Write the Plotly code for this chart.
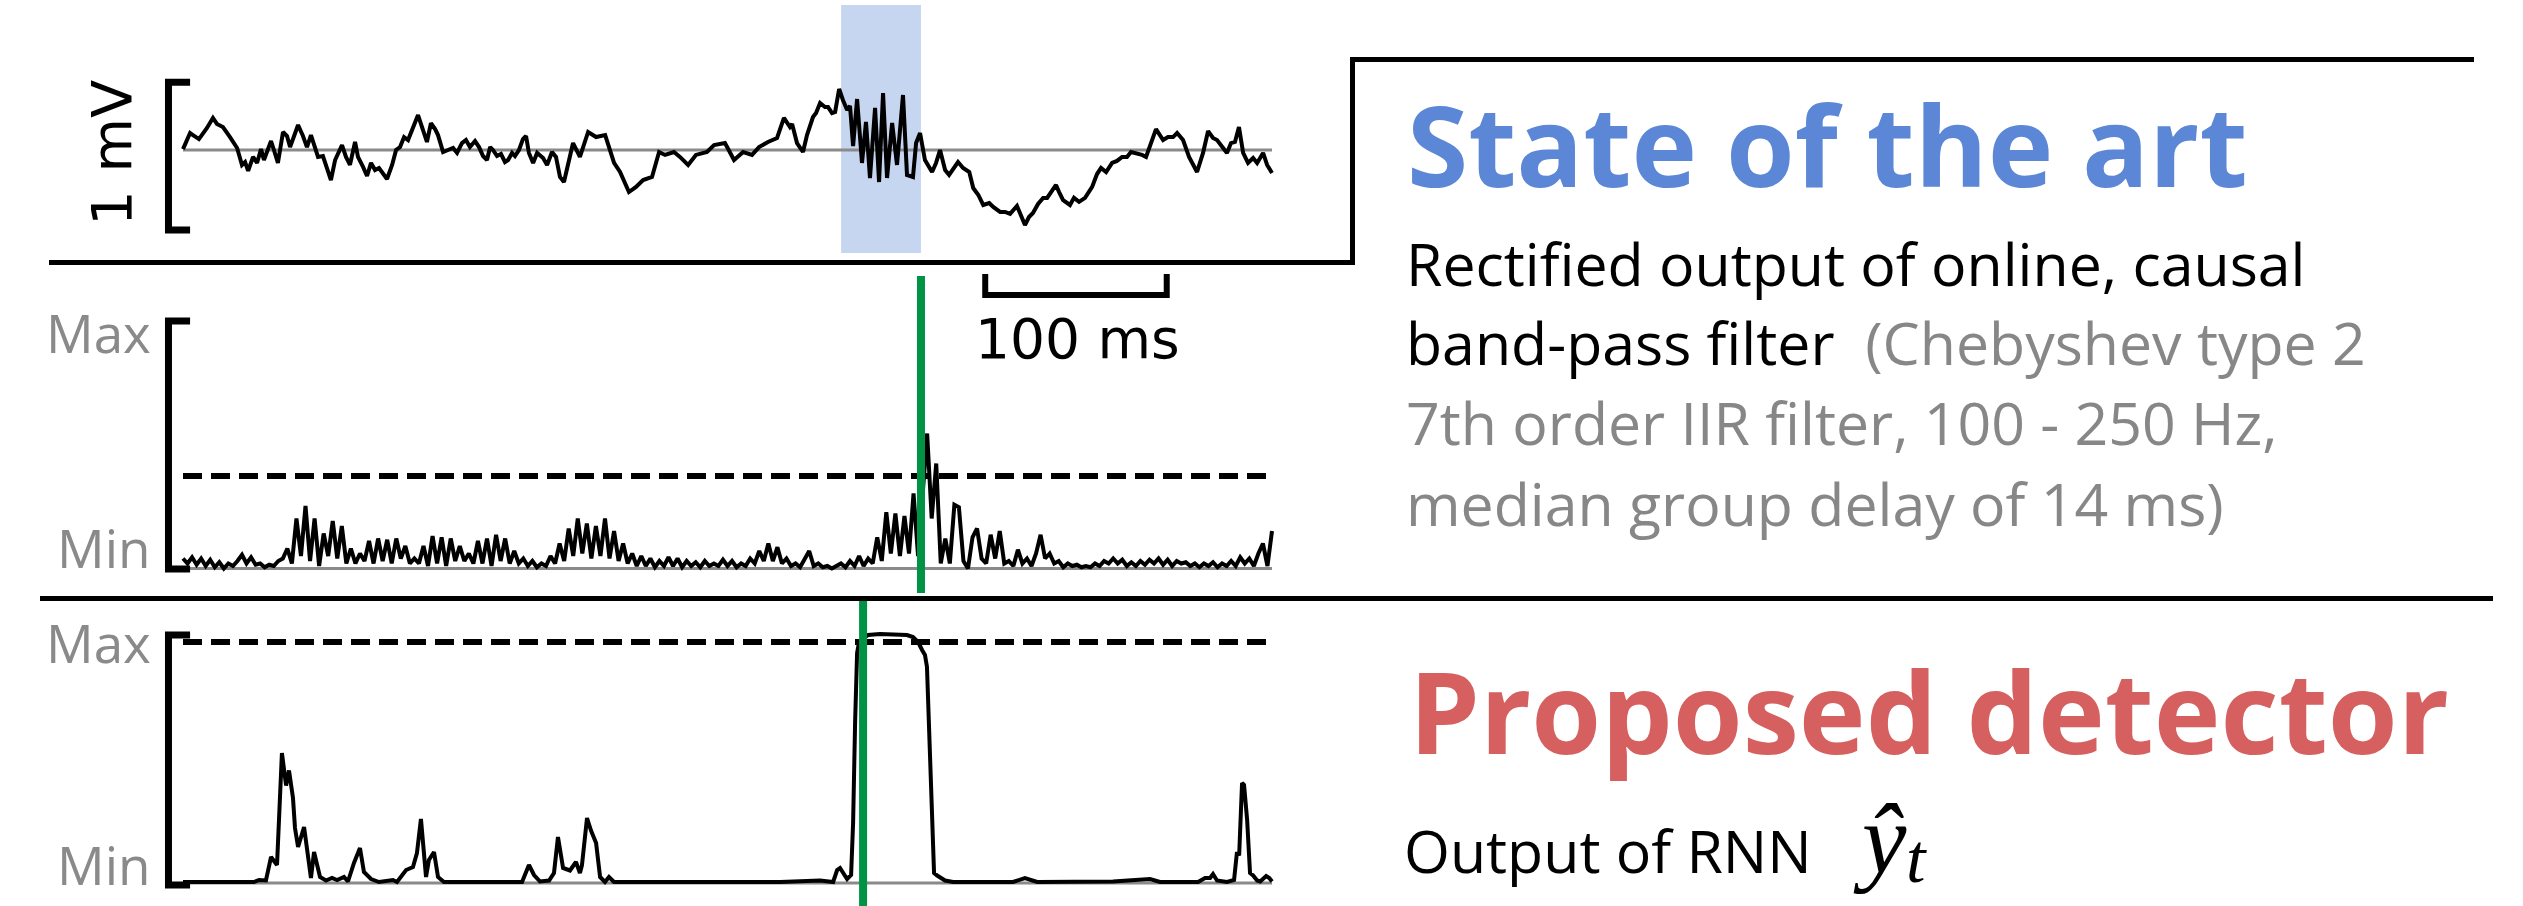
import numpy as np
import plotly.graph_objects as go

W, H = 2523, 906

# ---------------- data ----------------
# Top: raw LFP trace (time in ms, voltage in microvolts)
TOP_T = [0, 3.9, 5.5, 8.8, 13.2, 16.5, 18.7, 22.0, 25.9, 29.8, 32.5, 34.2, 35.9, 38.6, 40.8, 43.0, 44.6, 46.3,
         48.5, 50.1, 52.3, 55.1, 57.3, 59.0, 61.2, 63.4, 66.1, 68.3, 70.5, 72.2, 74.4, 77.1, 79.3, 81.5, 83.8,
         87.6, 89.8, 92.0, 94.8, 96.4, 99.2, 101.4, 103.6, 105.8, 108.0, 110.2, 112.4, 115.2, 117.4, 119.6,
         121.8, 124.0, 126.7, 129.5, 132.2, 134.4, 136.6, 138.9, 140.5, 143.3, 146.0, 148.8, 151.0, 153.7,
         155.9, 158.1, 160.9, 163.1, 165.3, 167.5, 169.2, 170.8, 173.0, 175.2, 177.4, 179.1, 181.3, 182.9,
         185.1, 187.3, 189.0, 190.6, 192.9, 195.1, 198.4, 200.6, 203.3, 205.5, 207.7, 209.9, 214.9, 218.7,
         223.2, 227.6, 232.6, 237.5, 240.8, 245.7, 249.6, 253.5, 258.4, 262.3, 265.6, 270.5, 273.8, 278.3,
         282.6, 288.7, 292.6, 298.6, 303.6, 308.6, 313.5, 317.4, 322.3, 327.3, 331.1, 334.4, 335.6, 338.3,
         341.6, 343.8, 347.1, 348.8, 351.0, 353.7, 355.4, 357.6, 359.3, 361.5, 363.6, 365.9, 367.5, 369.2,
         371.4, 374.1, 376.3, 378.5, 381.3, 383.5, 385.7, 387.9, 390.7, 393.4, 396.7, 398.9, 402.2, 403.9,
         406.1, 408.8, 412.7, 414.9, 417.1, 419.9, 422.1, 425.4, 427.0, 429.8, 433.2, 435.4, 438.2, 440.9,
         444.2, 446.4, 450.2, 452.9, 455.7, 459.5, 463.9, 466.1, 468.3, 471.1, 473.9, 476.1, 478.8, 481.0,
         482.7, 484.9, 488.7, 490.9, 493.7, 497.0, 500.9, 503.6, 505.8, 508.6, 511.9, 514.6, 517.4, 520.1,
         522.3, 524.6, 528.4, 530.6, 533.4, 536.1, 540.0, 542.7, 545.5, 547.7, 551.0, 554.3, 558.7, 562.0,
         564.8, 567.5, 569.7, 572.5, 575.2, 577.4, 579.6, 581.8, 584.1, 586.8, 589.6, 591.8, 595.1, 597.3,
         600.0]
TOP_UV = [6, 110, 97, 71, 143, 208, 169, 149, 84, 13, -97, -78, -136, -45, -84, 6, -65, -6,
          58, 0, -84, 117, 91, 19, 84, 162, 91, 19, 97, 32, -45, -39, -110, -195, -65,
          32, -45, -97, 52, -45, -110, -169, -84, -130, -117, -149, -188, -97, 0, 19,
          84, 65, 149, 227, 130, 52, 175, 136, 97, -13, 0, 13, -19, 45,
          65, 19, 58, 19, -39, -65, 19, 0, -39, -26, -78, -65, -19, -39,
          0, 71, 91, -19, -84, -19, -52, -97, -13, -45, -175, -208, 45, -45,
          117, 84, 97, -84, -143, -273, -240, -195, -175, -13, -32, -13, -45, -97,
          -32, -13, 32, 45, -65, -13, -32, 19, 52, 78, 208, 149, 169, 45,
          -13, 97, 214, 240, 305, 279, 279, 240, 247, 396, 325, 260, 286, 26,
          331, -84, 182, -182, 273, -208, 370, -182, 175, -97, 357, -162, -175, 45,
          110, -65, -143, -84, 0, -130, -162, -110, -78, -117, -143, -247, -292, -357,
          -344, -370, -402, -402, -415, -363, -487, -435, -409, -350, -311, -311, -266, -227,
          -273, -325, -357, -311, -337, -311, -240, -156, -117, -143, -84, -71, -45, -45,
          -13, -19, -32, -45, 52, 136, 65, 84, 84, 110, 65, -45, -143, -19,
          123, 78, 65, 19, -19, 45, 52, 149, -19, -84, -52, -84, -19, -97,
          -149]

# Middle: rectified band-pass filter output (normalised, Min=0, Max=1), one value every 2.5 ms
MID_DT = 2.5
MID_VAL = [0.04, 0.02, 0.045, 0.015, 0.04, 0.01, 0.035, 0.005, 0.025, 0.0,
           0.02, 0.01, 0.03, 0.055, 0.02, 0.045, 0.015, 0.02, 0.005, 0.015,
           0.01, 0.03, 0.04, 0.08, 0.02, 0.2, 0.05, 0.25, 0.03, 0.2,
           0.01, 0.14, 0.05, 0.19, 0.04, 0.17, 0.02, 0.08, 0.02, 0.06,
           0.03, 0.11, 0.02, 0.12, 0.03, 0.115, 0.02, 0.12, 0.04, 0.09,
           0.02, 0.04, 0.02, 0.09, 0.01, 0.13, 0.02, 0.125, 0.01, 0.12,
           0.03, 0.09, 0.03, 0.06, 0.02, 0.11, 0.02, 0.12, 0.01, 0.135,
           0.03, 0.12, 0.02, 0.07, 0.02, 0.04, 0.01, 0.03, 0.005, 0.02,
           0.01, 0.05, 0.02, 0.1, 0.03, 0.16, 0.05, 0.2, 0.06, 0.18,
           0.04, 0.17, 0.05, 0.2, 0.04, 0.15, 0.03, 0.1, 0.02, 0.06,
           0.01, 0.05, 0.01, 0.04, 0.005, 0.03, 0.01, 0.045, 0.01, 0.04,
           0.005, 0.03, 0.01, 0.025, 0.005, 0.03, 0.01, 0.02, 0.01, 0.035,
           0.01, 0.03, 0.005, 0.02, 0.01, 0.04, 0.02, 0.07, 0.03, 0.1,
           0.03, 0.085, 0.02, 0.04, 0.01, 0.02, 0.005, 0.04, 0.07, 0.01,
           0.02, 0.005, 0.01, 0.0, 0.01, 0.02, 0.005, 0.03, 0.01, 0.05,
           0.01, 0.04, 0.02, 0.125, 0.03, 0.225, 0.06, 0.22, 0.05, 0.21,
           0.06, 0.3, 0.05, 0.3, 0.54, 0.2, 0.42, 0.02, 0.12, 0.02,
           0.255, 0.245, 0.03, 0.0, 0.125, 0.16, 0.04, 0.02, 0.135, 0.04,
           0.15, 0.02, 0.03, 0.01, 0.075, 0.02, 0.04, 0.01, 0.06, 0.135,
           0.04, 0.06, 0.02, 0.03, 0.005, 0.02, 0.01, 0.015, 0.005, 0.01,
           0.005, 0.02, 0.01, 0.03, 0.02, 0.04, 0.02, 0.035, 0.01, 0.025,
           0.01, 0.03, 0.015, 0.035, 0.02, 0.04, 0.015, 0.035, 0.01, 0.03,
           0.02, 0.025, 0.01, 0.02, 0.005, 0.02, 0.01, 0.025, 0.005, 0.02,
           0.01, 0.03, 0.01, 0.045, 0.02, 0.04, 0.01, 0.06, 0.1, 0.01,
           0.15]
MID_T = np.arange(len(MID_VAL)) * MID_DT
MID_THRESHOLD = 0.37

# Bottom: RNN output (Min=0, Max=1)
BOT_T = [0, 39.1, 41.9, 45.7, 48.5, 51.8, 54.5, 56.8, 58.4, 60.6, 61.7, 63.4, 66.7, 68.9, 70.5, 72.2, 75.5,
         78.8, 82.1, 84.9, 88.7, 90.9, 94.2, 97.5, 99.7, 103.6, 108.0, 115.7, 117.9, 122.9, 126.7, 128.9,
         131.1, 133.9, 135.5, 138.3, 140.5, 143.8, 186.8, 190.6, 193.4, 196.7, 201.7, 204.4, 206.6, 209.4,
         213.2, 216.5, 218.7, 219.8, 222.6, 224.8, 227.6, 229.8, 232.5, 234.7, 237.5, 329.0, 351.0, 358.2,
         360.4, 362.0, 363.7, 365.9, 368.1, 369.2, 370.3, 371.4, 372.5, 377.4, 384.0, 391.2, 398.9, 402.2,
         405.0, 407.2, 408.8, 409.9, 411.0, 412.1, 413.3, 413.8, 415.5, 417.1, 419.9, 424.3, 457.3, 463.9,
         470.6, 512.4, 532.8, 538.3, 559.3, 563.1, 565.9, 567.5, 569.7, 575.2, 579.1, 580.7, 581.9, 583.5,
         584.6, 586.3, 587.9, 589.6, 591.8, 593.5, 596.8, 598.5, 600.0]
BOT_V = [0.004, 0.004, 0.012, 0.01, 0.104, 0.072, 0.52, 0.39, 0.45, 0.34, 0.22, 0.144, 0.224, 0.12, 0.02, 0.124, 0.024,
         0.01, 0.02, 0.012, 0.024, 0.006, 0.08, 0.14, 0.044, 0.016, 0.004, 0.012, 0.004, 0.052, 0.064, 0.12,
         0.256, 0.024, 0.092, 0.124, 0.024, 0.004, 0.004, 0.072, 0.032, 0.006, 0.01, 0.04, 0.184, 0.06,
         0.05, 0.084, 0.04, 0.07, 0.26, 0.21, 0.16, 0.024, 0.004, 0.024, 0.004, 0.004, 0.01, 0.004,
         0.052, 0.06, 0.04, 0.016, 0.032, 0.24, 0.64, 0.92, 0.964, 0.992, 0.996, 0.996, 0.992, 0.984,
         0.964, 0.932, 0.912, 0.864, 0.64, 0.372, 0.132, 0.04, 0.03, 0.024, 0.01, 0.004, 0.004, 0.02,
         0.004, 0.006, 0.016, 0.004, 0.004, 0.02, 0.02, 0.036, 0.01, 0.004, 0.012, 0.124, 0.11, 0.4,
         0.392, 0.252, 0.04, 0.03, 0.01, 0.006, 0.028, 0.02, 0.006]
BOT_THRESHOLD = 0.964

RIPPLE_START, RIPPLE_END = 362.6, 406.6     # shaded ripple window (ms)
DETECT_SOTA = 406.6                         # detection time, band-pass filter (ms)
DETECT_RNN = 374.7                          # detection time, RNN (ms)
SCALE_T0, SCALE_LEN = 442.0, 100.0          # 100 ms scale bar
MV_BAR = (440, -520)                        # 1 mV bar ends (uV)

# ---------------- styling ----------------
BLUE = "#5B87D6"
RED = "#D65F5F"
GREEN = "#009245"
GRAY = "#8a8a8a"
SHADE = "#C7D6F0"
TXT = "Open Sans"

# pixel geometry -> axis ranges (all axes span the whole figure)
T0_PX, PX_PER_MS = 183.0, 1.815
xr = [-T0_PX / PX_PER_MS, (W - T0_PX) / PX_PER_MS]
def yrange(zero_px, px_per_unit):
    return [(zero_px - H) / px_per_unit, zero_px / px_per_unit]
y1r = yrange(150.0, 0.154)      # uV
y2r = yrange(568.5, 250.0)
y3r = yrange(883.0, 250.0)

def PX(x):
    return x / W
def PY(y):
    return 1 - y / H

fig = go.Figure()

def line(x, y, ax, color="black", width=4, dash=None, **kw):
    fig.add_trace(go.Scatter(x=x, y=y, yaxis=ax, mode="lines", hoverinfo="skip", showlegend=False,
                             line=dict(color=color, width=width, dash=dash), **kw))

# top panel
line([RIPPLE_START, RIPPLE_END, RIPPLE_END, RIPPLE_START, RIPPLE_START], [941, 941, -669, -669, 941], "y",
     color=SHADE, width=0, fill="toself", fillcolor=SHADE)
line([0, 600], [0, 0], "y", color=GRAY, width=3)
line(TOP_T, TOP_UV, "y", width=4)
line([3.9, -8, -8, 3.9], [MV_BAR[0], MV_BAR[0], MV_BAR[1], MV_BAR[1]], "y", width=7)

# middle panel
line([0, 600], [0, 0], "y2", color=GRAY, width=3)
line([0, 600], [MID_THRESHOLD, MID_THRESHOLD], "y2", width=6, dash="19px,9px")
line(MID_T, MID_VAL, "y2", width=4)
line([3.9, -8, -8, 3.9], [0.99, 0.99, -0.002, -0.002], "y2", width=7)
line([SCALE_T0, SCALE_T0, SCALE_T0 + SCALE_LEN, SCALE_T0 + SCALE_LEN], [1.178, 1.094, 1.094, 1.178], "y2", width=6)
line([DETECT_SOTA, DETECT_SOTA], [1.17, -0.098], "y2", color=GREEN, width=8)

# bottom panel
line([0, 600], [0, 0], "y3", color=GRAY, width=3)
line([0, 600], [BOT_THRESHOLD, BOT_THRESHOLD], "y3", width=6, dash="19px,9px")
line(BOT_T, BOT_V, "y3", width=4)
line([3.9, -8, -8, 3.9], [0.992, 0.992, -0.008, -0.008], "y3", width=7)
line([DETECT_RNN, DETECT_RNN], [1.132, -0.2], "y3", color=GREEN, width=8)

# separators / box
shapes = [
    dict(type="path", xref="paper", yref="paper",
         path=f"M {PX(49)},{PY(262.5)} L {PX(1352.5)},{PY(262.5)} L {PX(1352.5)},{PY(59.5)} L {PX(2474)},{PY(59.5)}",
         line=dict(color="black", width=5)),
    dict(type="line", xref="paper", yref="paper", x0=PX(40), x1=PX(2493), y0=PY(598.5), y1=PY(598.5),
         line=dict(color="black", width=5)),
]

def ann(text, x, y, size, color="black", family=TXT, xanchor="left", yanchor="middle", **kw):
    return dict(text=text, x=x, y=y, xref="paper", yref="paper", showarrow=False, xanchor=xanchor,
                yanchor=yanchor, borderpad=0, font=dict(size=size, color=color, family=family), **kw)

annotations = [
    ann("1 mV", PX(112), PY(153), 56, family="DejaVu Sans", xanchor="center", textangle=-90),
    ann("100 ms", PX(1077), PY(339), 55, family="DejaVu Sans", xanchor="center"),
    ann("Max", PX(152), PY(332.5), 53, color=GRAY, xanchor="right"),
    ann("Min", PX(152), PY(547.5), 53, color=GRAY, xanchor="right"),
    ann("Max", PX(152), PY(642), 53, color=GRAY, xanchor="right"),
    ann("Min", PX(152), PY(864), 53, color=GRAY, xanchor="right"),
    ann("<b>State of the art</b>", PX(1406), PY(144), 111, color=BLUE),
    ann("Rectified output of online, causal", PX(1405), PY(263), 59),
    ann("band-pass filter\u00a0\u00a0<span style='color:#878787'>(Chebyshev type 2</span>", PX(1405), PY(342), 59),
    ann("7th order IIR filter, 100 - 250 Hz,", PX(1405), PY(422), 59, color="#878787"),
    ann("median group delay of 14 ms)", PX(1405), PY(503), 59, color="#878787"),
    ann("<b>Proposed detector</b>", PX(1408), PY(710), 113, color=RED),
    ann("Output of RNN", PX(1403), PY(850), 59),
    ann("<i>\u0177</i>", PX(1852), PY(839), 100, family="Liberation Serif"),
    ann("<i>t</i>", PX(1905), PY(858), 70, family="Liberation Serif"),
]

ax_common = dict(visible=False, showgrid=False, zeroline=False, fixedrange=True)
fig.update_layout(
    width=W, height=H, margin=dict(l=0, r=0, t=0, b=0, pad=0),
    paper_bgcolor="white", plot_bgcolor="white", showlegend=False,
    xaxis=dict(range=xr, domain=[0, 1], **ax_common),
    yaxis=dict(range=y1r, domain=[0, 1], **ax_common),
    yaxis2=dict(range=y2r, overlaying="y", **ax_common),
    yaxis3=dict(range=y3r, overlaying="y", **ax_common),
    shapes=shapes, annotations=annotations,
)

fig.write_html("out.html", config={"displayModeBar": False, "staticPlot": True},
               post_script="document.body.style.margin='0';document.body.style.overflow='hidden';")
